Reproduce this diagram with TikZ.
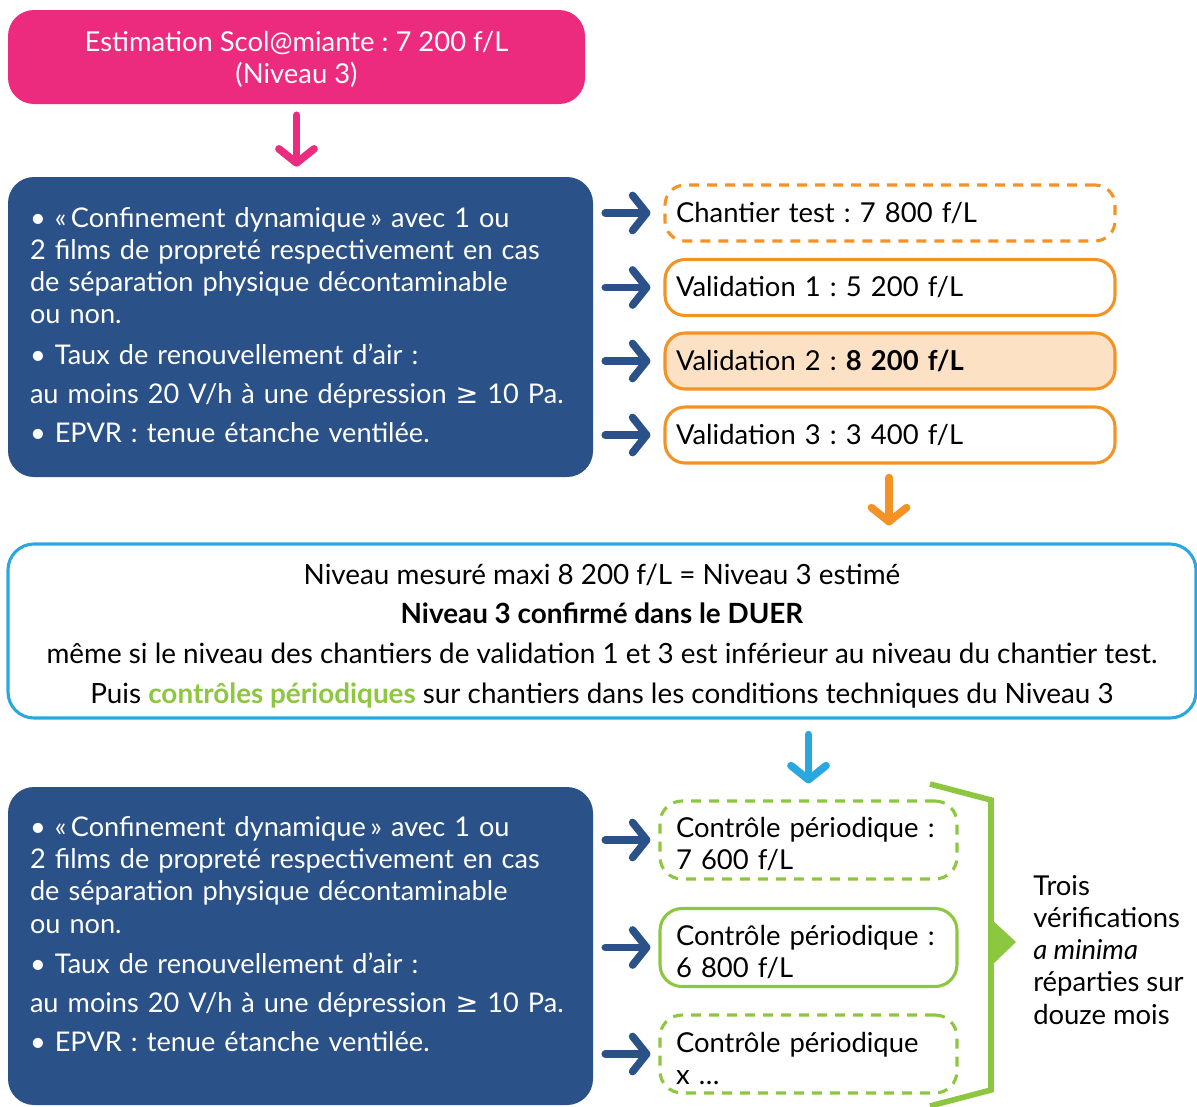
\documentclass[tikz,border=0pt]{standalone}
\usepackage{fontspec}
\setmainfont{Lato}
\newfontfamily\symbfont{DejaVu Sans}
\usetikzlibrary{arrows.meta}
\frenchspacing

\definecolor{rose}{HTML}{EC2B7E}
\definecolor{bleu}{HTML}{2B5189}
\definecolor{orangec}{HTML}{F39325}
\definecolor{peche}{HTML}{FDE1C4}
\definecolor{ciel}{HTML}{2AA7DF}
\definecolor{vert}{HTML}{8DC63F}

\newlength\px
\setlength\px{0.025cm}
\newcommand{\supeg}{{\symbfont ≥}}

\tikzset{
  every node/.style={font=\fontsize{19.5}{22.8}\selectfont, inner sep=0pt},
  boite/.style={rounded corners=26\px, align=left},
  bloc/.style={boite, fill=bleu, text=white, minimum width=585\px, text width=541\px, inner xsep=22\px,
    font=\fontsize{19.3}{22.8}\selectfont},
  valid/.style={rounded corners=20\px, line width=2.2pt, draw=orangec, minimum height=56\px,
    text width=428\px, inner xsep=11\px, align=left},
  ctrl/.style={rounded corners=22\px, line width=2.2pt, draw=vert, minimum height=78\px,
    text width=265\px, inner xsep=16\px, align=left},
  pointille/.style={dash pattern=on 10\px off 8\px},
  fleche/.style={line width=5.4pt, line cap=round,
    -{Straight Barb[length=10pt,width=25pt,round]}},
}

\begin{document}
\begin{tikzpicture}[x=0.025cm, y=-0.025cm]
\clip (0,0) rectangle (1197,1106);

% haut
\node[boite, fill=rose, text=white, align=center, minimum width=577\px, minimum height=94\px]
  (estim) at (296.5,57) {\rule{0pt}{25\px}Estimation Scol@miante : 7 200 f/L\\(Niveau 3)};

\node[bloc, minimum height=300\px] (bloc1) at (300.5,327) {%
  • «\,Confinement dynamique\,» avec 1 ou\\
  2 films de propreté respectivement en cas\\
  de séparation physique décontaminable\\
  ou non.\\[8\px]
  • Taux de renouvellement d’air :\\[7\px]
  au moins 20 V/h à une dépression \supeg\ 10 Pa.\\[7\px]
  • EPVR : tenue étanche ventilée.\rule[-4\px]{0pt}{0pt}};

\node[valid, pointille] (test) at (890,213) {Chantier test : 7 800 f/L};
\node[valid] (val1) at (890,287.5) {Validation 1 : 5 200 f/L};
\node[valid, fill=peche] (val2) at (890,361) {Validation 2 : \textbf{8 200 f/L}};
\node[valid] (val3) at (890,435) {Validation 3 : 3 400 f/L};

% bilan
\node[boite, draw=ciel, line width=2.2pt, align=center, minimum width=1188\px, minimum height=174\px,
  font=\fontsize{19.8}{28.2}\selectfont] (bilan) at (602,631) {%
  \rule{0pt}{30\px}Niveau mesuré maxi 8 200 f/L = Niveau 3 estimé\\
  \textbf{Niveau 3 confirmé dans le DUER}\\
  même si le niveau des chantiers de validation 1 et 3 est inférieur au niveau du chantier test.\\
  Puis \textcolor{vert}{\textbf{contrôles périodiques}} sur chantiers dans les conditions techniques du Niveau 3};

% bas
\node[bloc, minimum height=318\px] (bloc2) at (300.5,946) {%
  • «\,Confinement dynamique\,» avec 1 ou\\
  2 films de propreté respectivement en cas\\
  de séparation physique décontaminable\\
  ou non.\\[8\px]
  • Taux de renouvellement d’air :\\[7\px]
  au moins 20 V/h à une dépression \supeg\ 10 Pa.\\[7\px]
  • EPVR : tenue étanche ventilée.\rule[-24\px]{0pt}{0pt}};

\node[ctrl, pointille] (ctrl1) at (808.5,840) {\rule{0pt}{29\px}Contrôle périodique :\\7 600 f/L};
\node[ctrl] (ctrl2) at (808.5,947.5) {\rule{0pt}{29\px}Contrôle périodique :\\6 800 f/L};
\node[ctrl, pointille] (ctrl3) at (808.5,1054) {\rule{0pt}{29\px}Contrôle périodique\\x …};

\node[anchor=west, align=left] (trois) at (1033,950) {Trois\\vérifications\\\textit{a minima}\\réparties sur\\douze mois};

% accolade
\draw[vert, line width=4pt, line join=miter] (930,784) -- (991,800) -- (991,1090) -- (930,1106);
\fill[vert] (989,917) -- (1016,942) -- (989,968) -- cycle;

% fleches
\draw[fleche, rose, shorten <=11\px, shorten >=10\px] (estim.south) -- (bloc1.north -| estim.south);
\foreach \v in {test,val1,val2,val3}
  \draw[fleche, bleu, shorten <=12\px, shorten >=13\px] (bloc1.east |- \v.west) -- (\v.west);
\draw[fleche, orangec, shorten <=13\px, shorten >=17\px] (val3.south -| 889,0) -- (bilan.north -| 889,0);
\draw[fleche, ciel, shorten <=15\px, shorten >=16\px] (bilan.south -| ctrl1.north) -- (ctrl1.north);
\foreach \c in {ctrl1,ctrl2,ctrl3}
  \draw[fleche, bleu, shorten <=12\px, shorten >=8\px] (bloc2.east |- \c.west) -- (\c.west);
\end{tikzpicture}
\end{document}
